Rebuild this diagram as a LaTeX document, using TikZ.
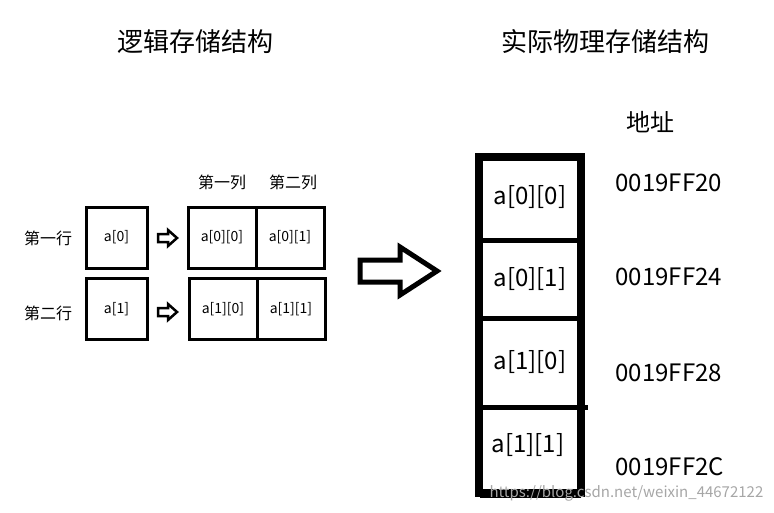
\documentclass[tikz,border=0pt]{standalone}
\usepackage{fontspec}
\setmainfont{Noto Sans CJK SC}
\begin{document}
\begin{tikzpicture}[x=1pt,y=-1pt,
  lbl/.style={font=\fontsize{16}{16}\selectfont},
  big/.style={font=\fontsize{26}{26}\selectfont},
  cell/.style={draw,line width=3pt,minimum width=61pt,minimum height=61pt,inner sep=0pt,font=\fontsize{14}{14}\selectfont},
  mem/.style={draw,line width=0pt,minimum width=100pt,inner sep=0pt,font=\fontsize{24}{24}\selectfont},
  addr/.style={anchor=west,font=\fontsize{24}{24}\selectfont}]
\useasboundingbox (0,0) rectangle (774,512);
\node[big] (t1) at (195,42) {逻辑存储结构};
\node[big] (t2) at (605,42) {实际物理存储结构};
\node[big,font=\fontsize{24}{24}\selectfont] (dz) at (650,122) {地址};
\node[lbl] (c1) at (222,182) {第一列};
\node[lbl] (c2) at (293,182) {第二列};
\node[lbl] (r1) at (48,238) {第一行};
\node[lbl] (r2) at (48,313) {第二行};
\node[cell] (a0) at (116.5,237.5) {a[0]};
\node[cell] (a1) at (116.5,309) {a[1]};
\node[cell,minimum width=68pt] (a00) at (222,237.5) {a[0][0]};
\node[cell,minimum width=68pt] (a01) at (290,237.5) {a[0][1]};
\node[cell,minimum width=68pt] (a10) at (223,309) {a[1][0]};
\node[cell,minimum width=68pt] (a11) at (291,309) {a[1][1]};
% small arrows
\draw[line width=2.5pt] (158,234) -- (168,234) -- (168,230) -- (177,238) -- (168,246) -- (168,242) -- (158,242) -- cycle;
\draw[line width=2.5pt] (158,308) -- (168,308) -- (168,304) -- (177,312) -- (168,320) -- (168,316) -- (158,316) -- cycle;
% big arrow
\draw[line width=5pt,line join=miter] (360,260) -- (400,260) -- (400,247) -- (437,271) -- (400,295) -- (400,282) -- (360,282) -- cycle;
% memory column
\node[mem,minimum height=87pt] (m0) at (530,197) {a[0][0]};
\node[mem,minimum height=78pt] (m1) at (530,279) {a[0][1]};
\node[mem,minimum height=89pt] (m2) at (530,362.5) {a[1][0]};
\node[mem,minimum height=90pt] (m3) at (530,452) {};
\node[font=\fontsize{24}{24}\selectfont] (m3t) at (528,445) {a[1][1]};
\draw[line width=8pt] (479,157) rectangle (581,493);
\draw[line width=5pt] (m0.south west) -- (m0.south east);
\draw[line width=5pt] (m1.south west) -- (m1.south east);
\draw[line width=5pt] (m2.south west) -- ++(108,0);
\node[addr] (d0) at (612,183) {0019FF20};
\node[addr] (d1) at (612,277) {0019FF24};
\node[addr] (d2) at (612,373) {0019FF28};
\node[addr] (d3) at (612,467) {0019FF2C};
\node[font=\fontsize{15}{15}\selectfont,text=black!35,anchor=west] (wm) at (486,493) {https://blog.csdn.net/weixin\_44672122};
\end{tikzpicture}
\end{document}
